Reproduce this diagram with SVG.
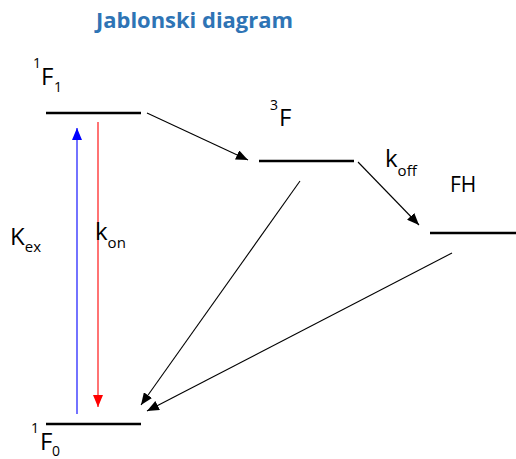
<svg xmlns="http://www.w3.org/2000/svg" width="516" height="459" viewBox="0 0 516 459">
<style>
.lvl{stroke:#000;stroke-width:2.6;fill:none}
.c{stroke:#000;stroke-width:1.1;fill:none}
.t{font-family:"Open Sans","Liberation Sans",sans-serif;font-size:24px;fill:#000}
.s{font-size:14px}
.b{font-size:15px}
.title{font-family:"Open Sans","Liberation Sans",sans-serif;font-size:21px;font-weight:bold;fill:#2E74B5}
</style>
<defs>
<marker id="ak" markerWidth="12" markerHeight="10" refX="12" refY="5" orient="auto" markerUnits="userSpaceOnUse"><path d="M0,0 L12,5 L0,10 Z" fill="#000"/></marker>
<marker id="ab" markerWidth="12" markerHeight="10" refX="12" refY="5" orient="auto" markerUnits="userSpaceOnUse"><path d="M0,0 L12,5 L0,10 Z" fill="#0000FF"/></marker>
<marker id="ar" markerWidth="12" markerHeight="10" refX="12" refY="5" orient="auto" markerUnits="userSpaceOnUse"><path d="M0,0 L12,5 L0,10 Z" fill="#FF0000"/></marker>
</defs>
<text class="title" x="96" y="28" textLength="197" lengthAdjust="spacingAndGlyphs">Jablonski diagram</text>
<g id="F1">
<line class="lvl" x1="46" y1="113" x2="141" y2="113"/>
<text class="t"><tspan class="s" x="33" y="68">1</tspan><tspan x="41" y="85">F</tspan><tspan class="s" x="54" y="92">1</tspan></text>
</g>
<g id="T3F">
<line class="lvl" x1="259" y1="161" x2="354" y2="161"/>
<text class="t"><tspan class="s" x="270" y="110">3</tspan><tspan x="279" y="126">F</tspan></text>
</g>
<g id="FH">
<line class="lvl" x1="430" y1="233" x2="516" y2="233"/>
<text class="t" x="450" y="192" style="font-size:21px">FH</text>
</g>
<g id="F0">
<line class="lvl" x1="46" y1="424" x2="141" y2="424"/>
<text class="t"><tspan class="s" x="31" y="433">1</tspan><tspan x="40" y="450">F</tspan><tspan class="s" x="52" y="456">0</tspan></text>
</g>
<g id="connectors">
<line x1="77" y1="414" x2="77" y2="128" stroke="#0000FF" stroke-width="1.1" marker-end="url(#ab)"/>
<line x1="98" y1="122" x2="98" y2="407" stroke="#FF0000" stroke-width="1.1" marker-end="url(#ar)"/>
<line class="c" x1="147" y1="113" x2="248" y2="160" marker-end="url(#ak)"/>
<line class="c" x1="358" y1="162" x2="419" y2="225" marker-end="url(#ak)"/>
<line class="c" x1="300" y1="181" x2="141" y2="405" marker-end="url(#ak)"/>
<line class="c" x1="452" y1="253" x2="147" y2="411" marker-end="url(#ak)"/>
<text class="t" x="10" y="245">K<tspan class="b" dy="7">ex</tspan></text>
<text class="t" x="95" y="240">k<tspan class="b" dy="8">on</tspan></text>
<text class="t" x="385" y="167">k<tspan class="b" dy="9">off</tspan></text>
</g>
</svg>
